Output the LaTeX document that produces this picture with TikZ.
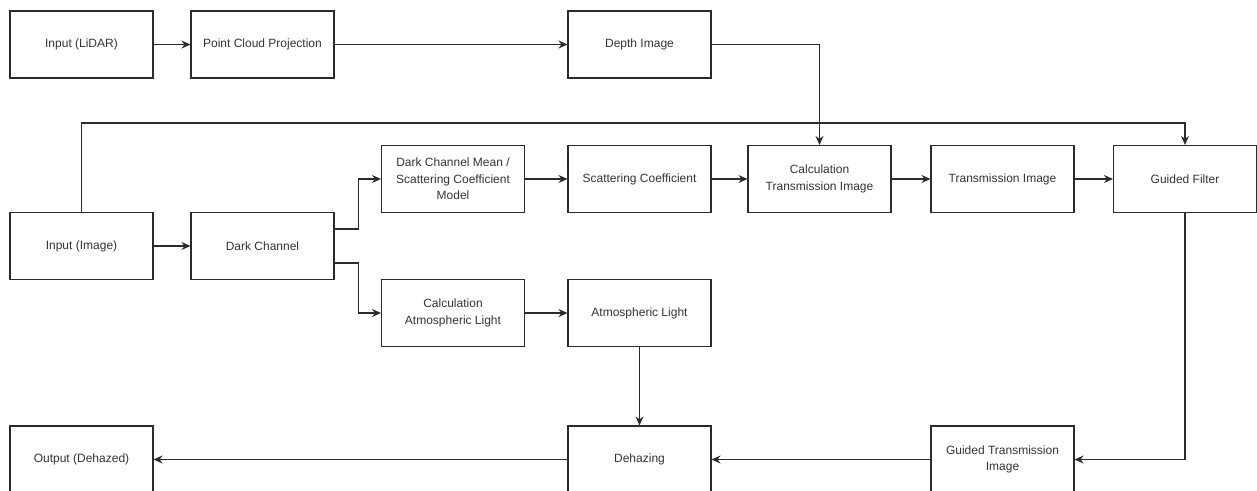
\documentclass[tikz,border=0pt]{standalone}
\usepackage{fontspec}
\setmainfont{Liberation Sans}
\usetikzlibrary{arrows.meta}
\definecolor{ln}{HTML}{2B2B2B}
\definecolor{tx}{HTML}{333333}
\begin{document}
\begin{tikzpicture}[x=1pt,y=-1pt,
  box/.style={draw=ln, line width=1.1pt, rectangle, minimum width=143pt, minimum height=67pt,
    inner sep=2pt, align=center, text=tx, font=\fontsize{12}{16.5}\selectfont},
  conn/.style={draw=ln, line width=1.1pt, -{Stealth[length=9pt,width=8pt,inset=3pt]}}]
\useasboundingbox (0,0) rectangle (1257,490);
\node[box] (lidar) at (81.5,44.5) {Input (LiDAR)};
\node[box] (pcp) at (262.5,44.5) {Point Cloud Projection};
\node[box] (depth) at (639.5,44.5) {Depth Image};
\node[box] (dcm) at (453,179) {Dark Channel Mean /\\Scattering Coefficient\\Model};
\node[box] (sc) at (639.5,179) {Scattering Coefficient};
\node[box] (calc) at (819.5,179) {Calculation\\Transmission Image};
\node[box] (trans) at (1002.5,179) {Transmission Image};
\node[box] (gf) at (1185,179) {Guided Filter};
\node[box] (img) at (81.5,246) {Input (Image)};
\node[box] (dc) at (262.5,246) {Dark Channel};
\node[box] (catm) at (453,313) {Calculation\\Atmospheric Light};
\node[box] (atm) at (639.5,313) {Atmospheric Light};
\node[box] (out) at (81.5,459.5) {Output (Dehazed)};
\node[box] (dehaze) at (639.5,459.5) {Dehazing};
\node[box] (gt) at (1002.5,459.5) {Guided Transmission\\Image};
\coordinate (topline) at (600,123);
\draw[conn] (lidar) -- (pcp);
\draw[conn] (pcp) -- (depth);
\draw[conn] (depth.east) -| (calc.north);
\draw[conn] (img.north) |- (topline) -| (gf.north);
\draw[conn] (img) -- (dc);
\draw[conn] ([yshift=17pt]dc.east) -- ++(24,0) |- (dcm.west);
\draw[conn] ([yshift=-17pt]dc.east) -- ++(24,0) |- (catm.west);
\draw[conn] (dcm) -- (sc);
\draw[conn] (sc) -- (calc);
\draw[conn] (calc) -- (trans);
\draw[conn] (trans) -- (gf);
\draw[conn] (catm) -- (atm);
\draw[conn] (atm) -- (dehaze);
\draw[conn] (gf.south) |- (gt.east);
\draw[conn] (gt) -- (dehaze);
\draw[conn] (dehaze) -- (out);
\end{tikzpicture}
\end{document}
